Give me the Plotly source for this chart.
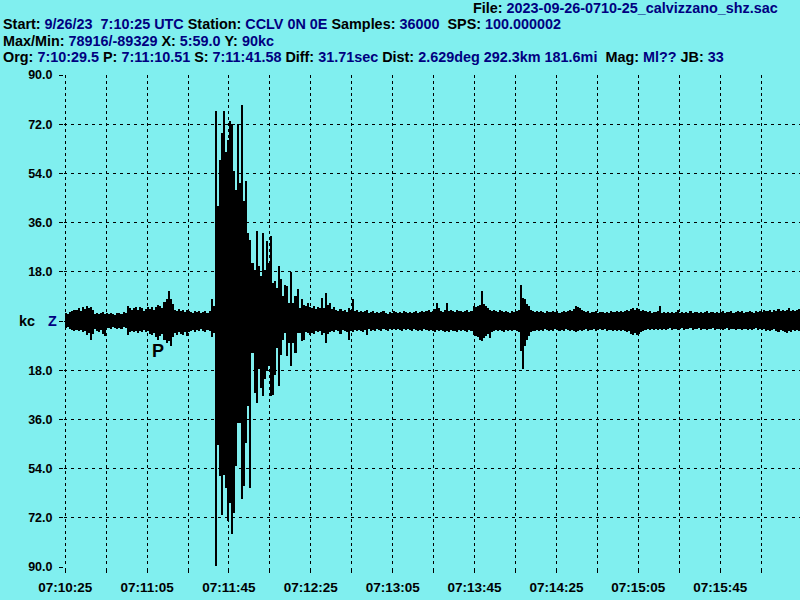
import plotly.graph_objects as go

# ---------------- data ----------------
# one envelope column per second after 07:10:25 (max / min in kc)
t_sec = list(range(359))

hi_kc = [
    3.0, 2.6, 3.2, 3.5, 4.2, 4.0, 4.6, 3.8, 5.0, 4.4,
    5.4, 4.8, 5.2, 4.0, 2.6, 3.0, 2.4, 2.8, 3.2, 2.6,
    2.8, 2.4, 3.0, 2.6, 2.2, 2.8, 3.0, 2.4, 3.4, 2.8,
    5.4, 4.6, 4.0, 4.8, 5.0, 4.2, 5.2, 4.6, 3.8, 4.4,
    5.0, 4.4, 5.0, 4.2, 5.2, 6.0, 5.4, 4.6, 6.8, 7.9,
    10.9, 8.0, 6.2, 4.2, 3.8, 4.4, 3.6, 4.2, 3.4, 4.0,
    3.6, 3.4, 3.0, 3.6, 3.2, 3.8, 3.0, 3.4, 3.6, 3.0,
    3.8, 7.9, 5.6, 76.8, 42.0, 59.0, 68.8, 77.0, 62.0, 66.4,
    73.1, 71.9, 54.8, 48.1, 71.9, 50.5, 79.2, 43.8, 51.1, 32.2,
    29.8, 21.3, 18.8, 32.8, 20.0, 16.4, 32.2, 18.8, 29.2, 21.3,
    31.0, 13.9, 14.6, 12.1, 20.0, 15.2, 9.1, 13.3, 12.7, 6.6,
    17.8, 6.6, 9.1, 11.7, 4.8, 7.9, 6.0, 5.5, 6.6, 5.0,
    4.8, 5.4, 4.4, 5.0, 4.6, 8.5, 4.6, 10.3, 6.0, 6.6,
    4.4, 5.0, 4.2, 3.6, 4.4, 3.8, 4.0, 3.4, 4.6, 4.0,
    8.1, 3.6, 4.0, 3.4, 3.8, 3.2, 3.6, 4.2, 3.0, 3.4,
    3.8, 3.0, 3.4, 2.8, 3.2, 3.6, 3.0, 2.6, 3.4, 3.0,
    3.6, 3.2, 2.8, 3.4, 3.0, 3.6, 3.2, 2.8, 3.4, 3.0,
    3.2, 3.6, 3.0, 3.4, 3.8, 3.2, 3.6, 4.0, 3.4, 3.8,
    4.4, 6.6, 4.8, 3.8, 3.4, 4.0, 6.6, 3.6, 4.2, 3.8,
    3.4, 4.0, 3.6, 3.8, 3.2, 3.6, 4.0, 3.4, 3.8, 5.4,
    5.0, 5.4, 6.0, 10.9, 6.4, 5.4, 4.6, 4.0, 3.6, 4.2,
    3.8, 3.4, 4.0, 3.6, 3.2, 3.8, 3.4, 3.0, 3.6, 3.4,
    3.8, 4.2, 13.0, 8.4, 7.9, 6.2, 5.4, 4.2, 3.8, 3.4,
    3.6, 3.2, 3.8, 3.4, 3.0, 3.6, 3.2, 3.4, 3.8, 3.2,
    3.6, 3.0, 3.4, 3.8, 3.2, 3.6, 4.0, 3.6, 4.4, 5.4,
    5.0, 4.6, 4.0, 3.6, 3.2, 3.6, 3.0, 3.4, 3.2, 3.6,
    3.0, 3.4, 3.2, 2.8, 3.4, 3.0, 3.6, 3.2, 3.4, 3.8,
    3.2, 3.6, 3.4, 3.8, 4.2, 3.6, 4.4, 4.8, 4.2, 4.8,
    4.4, 3.8, 4.0, 3.6, 3.2, 3.6, 3.0, 3.4, 3.2, 3.6,
    5.4, 3.0, 3.4, 2.8, 3.2, 3.0, 3.4, 2.8, 3.2, 4.0,
    3.0, 3.4, 2.8, 3.2, 3.0, 3.6, 2.8, 3.2, 3.4, 3.0,
    3.4, 2.8, 3.2, 3.6, 3.0, 3.4, 3.2, 2.8, 3.4, 3.0,
    3.4, 3.6, 3.0, 3.4, 3.2, 3.6, 3.0, 3.4, 3.8, 3.2,
    3.6, 3.0, 3.4, 3.2, 3.8, 3.4, 3.0, 3.6, 3.2, 3.8,
    3.4, 4.0, 3.6, 3.8, 4.2, 3.4, 4.0, 3.6, 4.4, 3.8,
    4.2, 3.6, 4.0, 4.8, 3.8, 4.2, 3.6, 4.0, 4.4,
]

lo_kc = [
    -2.5, -2.2, -2.8, -3.2, -3.7, -3.4, -3.8, -3.2, -4.2, -3.8,
    -5.0, -4.4, -6.8, -4.6, -3.0, -3.6, -4.2, -3.4, -4.8, -5.5,
    -2.6, -2.4, -2.8, -2.2, -2.6, -3.0, -2.4, -2.8, -2.2, -2.6,
    -5.0, -4.2, -3.6, -4.0, -3.6, -4.4, -3.8, -4.2, -3.4, -4.0,
    -3.8, -4.6, -5.2, -4.4, -5.8, -6.8, -5.4, -4.8, -6.8, -8.0,
    -7.4, -9.2, -6.0, -4.4, -5.0, -4.0, -4.6, -5.2, -4.2, -5.5,
    -4.0, -3.6, -3.2, -4.0, -3.4, -3.8, -3.0, -3.6, -4.2, -3.4,
    -3.8, -6.0, -4.4, -89.7, -45.2, -56.8, -70.8, -56.2, -61.0, -73.3,
    -66.5, -78.1, -70.2, -53.1, -37.3, -37.3, -65.3, -60.5, -44.6, -31.2,
    -61.1, -11.7, -26.3, -30.0, -17.7, -24.5, -27.5, -21.4, -18.4, -16.5,
    -27.5, -26.9, -19.6, -10.0, -23.8, -12.3, -6.8, -4.3, -12.9, -8.0,
    -16.5, -8.0, -11.6, -4.3, -4.3, -7.4, -6.8, -4.0, -4.5, -5.0,
    -4.3, -4.6, -3.8, -4.2, -3.6, -5.0, -4.4, -8.2, -4.6, -4.0,
    -3.6, -4.2, -3.4, -3.8, -4.6, -3.2, -3.8, -4.2, -6.8, -3.6,
    -4.0, -3.4, -3.8, -3.2, -3.6, -4.0, -3.4, -5.3, -3.0, -3.6,
    -3.2, -3.8, -3.0, -3.4, -3.6, -2.8, -3.2, -3.6, -3.0, -3.4,
    -3.0, -3.4, -2.8, -3.2, -3.6, -3.0, -3.4, -2.8, -3.2, -3.6,
    -3.0, -3.4, -3.8, -3.2, -3.6, -3.0, -3.4, -3.8, -3.2, -3.6,
    -4.0, -3.4, -3.8, -3.2, -3.6, -4.2, -3.8, -4.0, -3.4, -3.8,
    -3.6, -4.2, -3.4, -3.8, -3.2, -3.6, -4.0, -3.4, -3.8, -5.2,
    -5.6, -6.0, -6.8, -7.4, -6.2, -5.4, -4.8, -6.2, -4.2, -3.8,
    -3.4, -3.8, -3.2, -3.6, -4.0, -3.4, -3.8, -3.2, -3.6, -3.4,
    -3.8, -4.2, -11.0, -17.5, -9.0, -6.8, -5.4, -4.2, -3.6, -3.8,
    -3.4, -3.8, -3.2, -3.6, -3.0, -3.4, -3.8, -3.2, -3.6, -3.0,
    -3.4, -3.8, -3.2, -3.6, -3.0, -3.4, -3.8, -3.2, -3.6, -4.0,
    -3.6, -3.2, -3.8, -3.4, -3.0, -3.6, -3.2, -3.4, -3.0, -3.6,
    -3.2, -2.8, -3.4, -3.0, -3.6, -3.2, -3.4, -3.8, -3.2, -3.6,
    -3.4, -3.8, -3.2, -3.6, -4.0, -3.6, -4.6, -5.0, -4.4, -5.0,
    -4.6, -4.2, -3.8, -3.2, -3.0, -3.4, -3.0, -3.2, -2.8, -3.2,
    -3.0, -3.4, -2.8, -3.2, -3.0, -2.6, -3.2, -3.0, -2.8, -3.2,
    -3.0, -2.6, -3.2, -2.8, -3.0, -2.6, -3.2, -2.8, -3.0, -2.6,
    -3.2, -2.8, -3.0, -3.4, -2.8, -3.0, -2.6, -3.2, -2.8, -3.0,
    -2.8, -3.2, -3.0, -2.6, -3.2, -2.8, -3.0, -3.4, -2.8, -3.0,
    -3.2, -2.8, -3.0, -3.4, -2.8, -3.2, -3.0, -2.6, -3.2, -3.0,
    -3.4, -3.0, -3.6, -3.2, -3.8, -3.4, -3.0, -3.6, -4.0, -3.4,
    -3.8, -4.2, -4.4, -3.6, -4.0, -3.4, -3.8, -3.2, -3.6,
]

x_tick_secs = [0, 40, 80, 120, 160, 200, 240, 280, 320]
x_tick_labels = ["07:10:25", "07:11:05", "07:11:45", "07:12:25", "07:13:05",
                 "07:13:45", "07:14:25", "07:15:05", "07:15:45"]
y_tick_vals = [90, 72, 54, 36, 18, 0, -18, -36, -54, -72, -90]
y_tick_labels = ["90.0", "72.0", "54.0", "36.0", "18.0", "",
                 "18.0", "36.0", "54.0", "72.0", "90.0"]

p_time_sec = 45.51       # P: 7:11:10.51
p_label_kc = -11.0

header_file = "2023-09-26-0710-25_calvizzano_shz.sac"
header_line1 = [("Start: ", "9/26/23\u00a0\u00a07:10:25 UTC "), ("Station: ", "CCLV 0N 0E "),
                ("Samples: ", "36000\u00a0\u00a0"), ("SPS: ", "100.000002")]
header_line2 = [("Max/Min: ", "78916/-89329 "), ("X: ", "5:59.0 "), ("Y: ", "90kc")]
header_line3 = [("Org: ", "7:10:29.5 "), ("P: ", "7:11:10.51 "), ("S: ", "7:11:41.58 "),
                ("Diff: ", "31.71sec "), ("Dist: ", "2.629deg 292.3km 181.6mi\u00a0\u00a0"),
                ("Mag: ", "Ml?? "), ("JB: ", "33")]

# ---------------- styling ----------------
BG = "#80EFEF"
NAVY = "#000080"
FONT = "Liberation Sans"
HEAD_SIZE = 14.4

L, R, T, B = 64, 0, 75, 33
W, H = 800, 600
PW, PH = W - L - R, H - T - B


def px(xp):
    return (xp - L) / PW


def py(yp):
    return (H - B - yp) / PH


def rich(parts):
    s = ""
    for k, v in parts:
        s += k.replace(" ", "\u00a0") + "<span style='color:%s'>%s</span>" % (NAVY, v.replace(" ", "\u00a0"))
    return s


fig = go.Figure()
fig.add_trace(go.Bar(
    x=t_sec,
    y=[h - l for h, l in zip(hi_kc, lo_kc)],
    base=lo_kc,
    width=1,
    offset=0,
    marker=dict(color="black", line=dict(width=0)),
    hoverinfo="skip",
))

annos = [
    dict(x=px(780), y=py(8), text="File:\u00a0<span style='color:%s'>%s</span>" % (NAVY, header_file),
         xanchor="right"),
    dict(x=px(1), y=py(24), text=rich(header_line1), xanchor="left"),
    dict(x=px(1), y=py(40.5), text=rich(header_line2), xanchor="left"),
    dict(x=px(1), y=py(56.5), text=rich(header_line3), xanchor="left"),
    dict(x=px(27), y=py(321), text="kc", xanchor="center"),
    dict(x=px(52), y=py(321), text="<span style='color:%s'>Z</span>" % NAVY, xanchor="center"),
]
for a in annos:
    a.update(xref="paper", yref="paper", yanchor="middle", showarrow=False,
             font=dict(family=FONT, size=HEAD_SIZE, color="black", weight="bold"))
    fig.add_annotation(**a)

fig.add_annotation(x=p_time_sec, y=p_label_kc, xref="x", yref="y", text="P", showarrow=False,
                   xanchor="center", yanchor="middle",
                   font=dict(family=FONT, size=18, color="black", weight="bold"))

fig.update_layout(
    width=W, height=H,
    margin=dict(l=L, r=R, t=T, b=B, pad=0, autoexpand=False),
    paper_bgcolor=BG, plot_bgcolor=BG,
    showlegend=False, bargap=0,
    font=dict(family=FONT, size=12, color="black", weight="bold"),
    xaxis=dict(
        range=[-0.6, 359], tickvals=x_tick_secs, ticktext=x_tick_labels,
        showgrid=True, gridcolor="black", gridwidth=1, griddash="3px,3px",
        ticks="outside", ticklen=5, tickcolor="black", tickwidth=1,
        ticklabelstandoff=3,
        zeroline=False, showline=False, fixedrange=True,
        tickfont=dict(family=FONT, size=13.5, color="black", weight="bold"),
        minor=dict(dtick=20, tick0=0, showgrid=True, gridcolor="black", gridwidth=1,
                   griddash="3px,3px", ticks="outside", ticklen=5, tickcolor="black"),
    ),
    yaxis=dict(
        range=[-90, 90], tickvals=y_tick_vals, ticktext=y_tick_labels,
        showgrid=True, gridcolor="black", gridwidth=1, griddash="3px,4px",
        ticks="outside", ticklen=4, tickcolor="black", tickwidth=1,
        ticklabelstandoff=4,
        zeroline=False, showline=False, fixedrange=True,
        tickfont=dict(family=FONT, size=12.5, color="black", weight="bold"),
    ),
)

fig.write_html(
    "out.html",
    config={"displayModeBar": False, "staticPlot": True},
    post_script="document.body.style.margin='0';document.body.style.background='%s';" % BG,
)
